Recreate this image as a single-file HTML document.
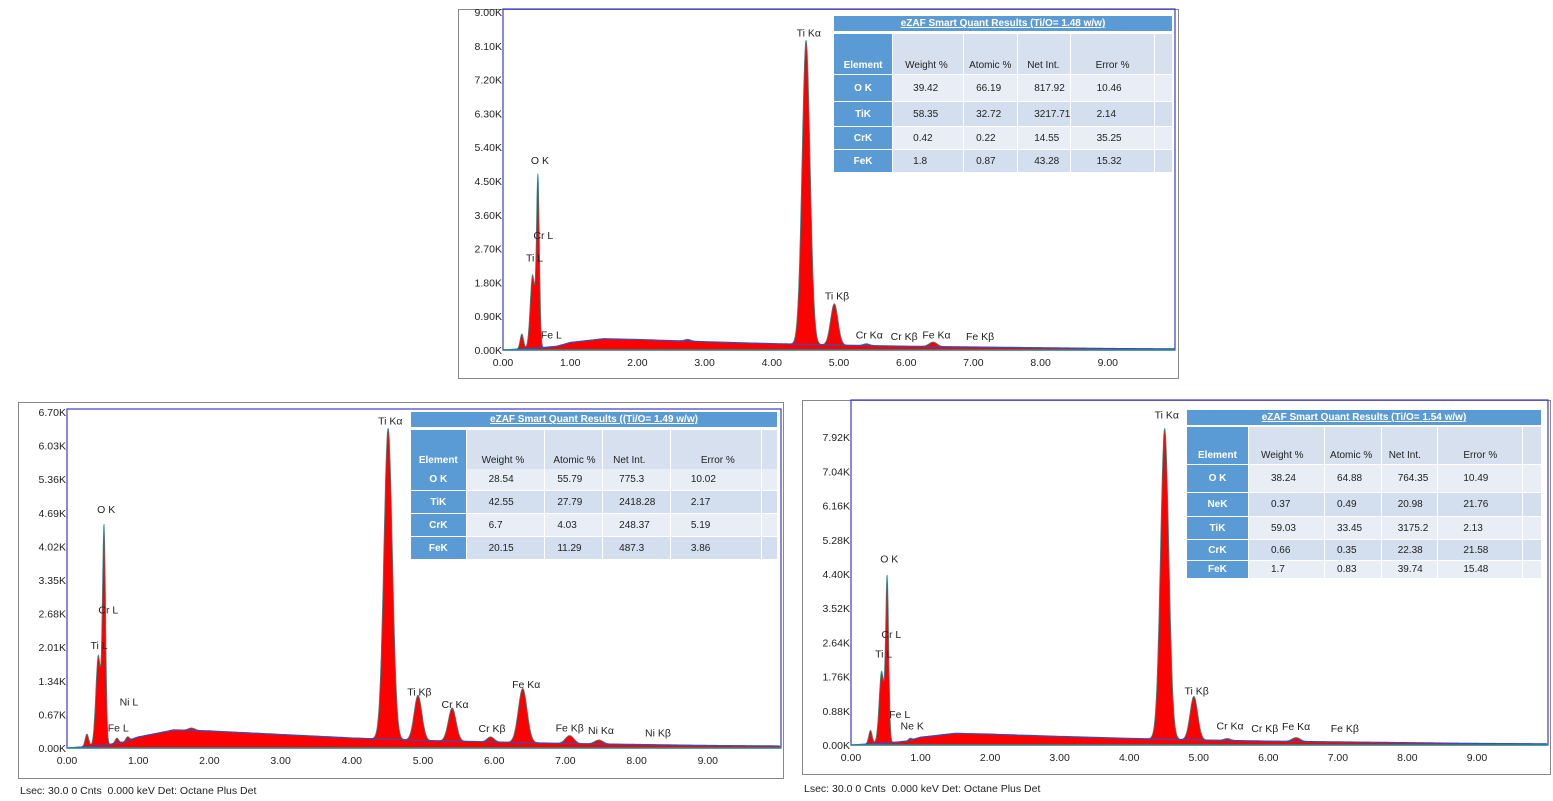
<!DOCTYPE html>
<html><head><meta charset="utf-8"><style>
body{margin:0;width:1553px;height:801px;background:#fff;position:relative;overflow:hidden;font-family:"Liberation Sans Narrow","Liberation Sans",sans-serif;}
.panel{position:absolute;border:1px solid #888;background:#fff;}
svg{position:absolute;left:0;top:0;}
.tbl{position:absolute;font-size:10px;color:#222;}
.ttl{position:absolute;left:0;right:0;background:#5b9bd5;color:#fff;font-weight:bold;text-align:center;text-decoration:underline;font-size:10px;}
.row{position:absolute;left:0;right:0;}
.cell{position:absolute;top:0;bottom:0;display:flex;align-items:center;}
.el{background:#5b9bd5;color:#fff;font-weight:bold;justify-content:center;}
.foot{position:absolute;font-size:10.5px;color:#222;}
</style></head><body>
<div class="panel" style="left:458px;top:9px;width:719px;height:368px"></div>
<div class="panel" style="left:18px;top:402px;width:764px;height:375px"></div>
<div class="panel" style="left:802px;top:400px;width:747px;height:373px"></div>
<svg id="chart" width="1553" height="801"></svg>
<div class="foot" style="left:20px;top:785px">Lsec: 30.0 0 Cnts&nbsp; 0.000 keV Det: Octane Plus Det</div>
<div class="foot" style="left:804px;top:783px">Lsec: 30.0 0 Cnts&nbsp; 0.000 keV Det: Octane Plus Det</div>
<script>
// ---- data ----
const xTicks=["0.00","1.00","2.00","3.00","4.00","5.00","6.00","7.00","8.00","9.00"];
const yTicks1=["0.00K","0.90K","1.80K","2.70K","3.60K","4.50K","5.40K","6.30K","7.20K","8.10K","9.00K"];
const yTicks2=["0.00K","0.67K","1.34K","2.01K","2.68K","3.35K","4.02K","4.69K","5.36K","6.03K","6.70K"];
const yTicks3=["0.00K","0.88K","1.76K","2.64K","3.52K","4.40K","5.28K","6.16K","7.04K","7.92K"];
const yMax1=9.0, yMax2=6.7, yMax3=8.8;
// background continuum (keV, K counts)
const bgE=[0,0.2,0.5,0.8,1.0,1.5,2.0,3.0,4.0,5.0,6.0,7.0,8.0,9.0,10.0];
const bg1=[0,0.02,0.05,0.1,0.2,0.3,0.28,0.22,0.17,0.13,0.1,0.08,0.06,0.04,0.03];
const bg2=[0,0.02,0.05,0.12,0.22,0.36,0.34,0.27,0.2,0.15,0.12,0.09,0.07,0.05,0.04];
const bg3=[0,0.02,0.05,0.1,0.2,0.3,0.28,0.22,0.17,0.13,0.1,0.08,0.06,0.04,0.03];
// peaks: energy, height (K), sigma
const pkE1=[0.28,0.44,0.52,4.51,4.93,5.41,6.40,2.75];
const pkH1=[0.4,1.95,4.5,8.1,1.1,0.05,0.12,0.05];
const pkS1=[0.025,0.035,0.022,0.06,0.055,0.05,0.06,0.05];
const pkE2=[0.28,0.44,0.52,0.7,0.85,4.51,4.93,5.41,5.95,6.40,7.06,7.47,1.75];
const pkH2=[0.25,1.8,4.3,0.1,0.08,6.2,0.9,0.66,0.1,1.08,0.16,0.08,0.05];
const pkS2=[0.025,0.035,0.022,0.025,0.025,0.06,0.055,0.055,0.05,0.062,0.06,0.06,0.05];
const pkE3=[0.28,0.44,0.52,0.85,4.51,4.93,5.41,6.40];
const pkH3=[0.35,1.85,4.2,0.05,8.0,1.12,0.05,0.1];
const pkS3=[0.025,0.035,0.022,0.025,0.06,0.055,0.05,0.06];
// peak labels: text, energy, count(K) of label baseline
const lb1T=["Ti Kα","O  K","Cr L","Ti L","Fe L","Ti Kβ","Cr Kα","Cr Kβ","Fe Kα","Fe Kβ"];
const lb1E=[4.55,0.55,0.6,0.47,0.72,4.97,5.45,5.97,6.45,7.1];
const lb1C=[8.35,4.95,2.95,2.35,0.3,1.35,0.3,0.27,0.3,0.27];
const lb2T=["Ti Kα","O  K","Cr L","Ti L","Ni L","Fe L","Ti Kβ","Cr Kα","Cr Kβ","Fe Kα","Fe Kβ","Ni Kα","Ni Kβ"];
const lb2E=[4.54,0.55,0.58,0.45,0.87,0.72,4.95,5.45,5.97,6.45,7.06,7.5,8.3];
const lb2C=[6.45,4.69,2.68,1.97,0.85,0.33,1.05,0.8,0.32,1.2,0.33,0.28,0.23];
const lb3T=["Ti Kα","O  K","Cr L","Ti L","Fe L","Ne K","Ti Kβ","Cr Kα","Cr Kβ","Fe Kα","Fe Kβ"];
const lb3E=[4.54,0.55,0.58,0.47,0.7,0.88,4.97,5.45,5.95,6.4,7.1];
const lb3C=[8.4,4.7,2.75,2.25,0.7,0.4,1.3,0.4,0.33,0.38,0.33];
// tables
const t1Title="eZAF Smart Quant Results (Ti/O= 1.48 w/w)";
const t1El=["O K","TiK","CrK","FeK"];
const t1W=["39.42","58.35","0.42","1.8"],t1A=["66.19","32.72","0.22","0.87"],t1N=["817.92","3217.71","14.55","43.28"],t1R=["10.46","2.14","35.25","15.32"];
const t2Title="eZAF Smart Quant Results ((Ti/O= 1.49 w/w)";
const t2El=["O K","TiK","CrK","FeK"];
const t2W=["28.54","42.55","6.7","20.15"],t2A=["55.79","27.79","4.03","11.29"],t2N=["775.3","2418.28","248.37","487.3"],t2R=["10.02","2.17","5.19","3.86"];
const t3Title="eZAF Smart Quant Results (Ti/O= 1.54 w/w)";
const t3El=["O K","NeK","TiK","CrK","FeK"];
const t3W=["38.24","0.37","59.03","0.66","1.7"],t3A=["64.88","0.49","33.45","0.35","0.83"],t3N=["764.35","20.98","3175.2","22.38","39.74"],t3R=["10.49","21.76","2.13","21.58","15.48"];

const NS="http://www.w3.org/2000/svg";
const svg=document.getElementById('chart');
function mk(tag,attrs,parent){const e=document.createElementNS(NS,tag);for(const k in attrs)e.setAttribute(k,attrs[k]);(parent||svg).appendChild(e);return e;}
function interp(xs,ys,x){for(let i=0;i<xs.length-1;i++){if(x<=xs[i+1]){const t=(x-xs[i])/(xs[i+1]-xs[i]);return ys[i]+t*(ys[i+1]-ys[i]);}}return ys[ys.length-1];}

function panel(name,g,yT,yMax,bg,pE,pH,pS,lT,lE,lC){
  const X=e=>g.x0+e*g.kx, Y=c=>g.yb-c/yMax*(g.yb-g.yt);
  const grp=mk('g',{});
  
  
  const r=mk('rect',{x:g.x0,y:g.yt-3,width:g.x1-g.x0,height:g.yb-g.yt+3,fill:'none',stroke:'#3b3bd0','stroke-width':1.2},grp);
  
  
  let pts=[];
  const eMax=(g.x1-g.x0)/g.kx;
  for(let i=0;i<=1500;i++){const e=i/1500*eMax;let c=interp(bgE,bg,e);
    for(let j=0;j<pE.length;j++){c+=pH[j]*Math.exp(-0.5*Math.pow((e-pE[j])/pS[j],2));}
    pts.push([X(e),Math.max(Y(Math.min(c,yMax)),g.yt)]);}
  let d='M'+X(0)+','+g.yb+' '+pts.map(p=>'L'+p[0].toFixed(1)+','+p[1].toFixed(1)).join(' ')+' L'+g.x1+','+g.yb+'Z';
  const f=mk('path',{d:d,fill:'#ff0000',stroke:'#2a8c8c','stroke-width':0.8},grp);
  
  
  let bd='';for(let i=0;i<=200;i++){const e=i*0.05;if(X(e)>g.x1)break;bd+=(i?'L':'M')+X(e).toFixed(1)+','+Y(interp(bgE,bg,e)).toFixed(1);}
  const b=mk('path',{d:bd,fill:'none',stroke:'#3050c0','stroke-width':1.2},grp);
  
  
  mk('line',{x1:g.x0,y1:g.yb,x2:g.x1,y2:g.yb,stroke:'#2a8c8c','stroke-width':1.5},grp);
  xTicks.forEach((t,i)=>{const tx=mk('text',{x:X(i),y:g.yb+16,'font-size':10.5,'text-anchor':'middle',fill:'#222'},grp);tx.textContent=t;
    });
  const step=(yMax===8.8)?0.88:yMax/10;
  yT.forEach((t,i)=>{const ty=mk('text',{x:g.x0-1,y:Y(i*step)+4,'font-size':10.5,'text-anchor':'end',fill:'#222'},grp);ty.textContent=t;
    });
  lT.forEach((t,i)=>{const tl=mk('text',{x:X(lE[i]),y:Y(lC[i]),'font-size':10.5,'text-anchor':'middle',fill:'#222'},grp);tl.textContent=t;
    });
}
panel('spectrum-top',{x0:503,x1:1175,kx:67.2,yt:12,yb:350},yTicks1,yMax1,bg1,pkE1,pkH1,pkS1,lb1T,lb1E,lb1C);
panel('spectrum-bottom-left',{x0:67,x1:781,kx:71.2,yt:412,yb:748},yTicks2,yMax2,bg2,pkE2,pkH2,pkS2,lb2T,lb2E,lb2C);
panel('spectrum-bottom-right',{x0:851,x1:1548,kx:69.55,yt:403,yb:745},yTicks3,yMax3,bg3,pkE3,pkH3,pkS3,lb3T,lb3E,lb3C);

function table(name,g,title,els,W,A,N,R){
  const t=document.createElement('div');t.className='tbl';
  
  
  t.style.left=g.x+'px';t.style.top=g.y+'px';t.style.width=g.w+'px';t.style.height=(g.rows[g.rows.length-1]+g.rh[g.rh.length-1])+'px';
  document.body.appendChild(t);
  const tt=document.createElement('div');tt.className='ttl';tt.textContent=title;tt.style.top='0px';tt.style.height=g.th+'px';tt.style.lineHeight=g.th+'px';
  t.appendChild(tt);
  const cw=g.cols;
  const hdr=['Element','Weight %','Atomic %','Net Int.','Error %',''];
  function row(top,h,vals,bgc,isHdr){
    const r=document.createElement('div');r.className='row';r.style.top=top+'px';r.style.height=h+'px';
    
    let x=0;vals.forEach((v,i)=>{const c=document.createElement('div');c.className='cell'+(i==0?' el':'');
      c.style.left=(x*g.w)+'px';c.style.width=(cw[i]*g.w-(i<5?1:0))+'px';
      if(i>0){c.style.background=bgc;c.style.paddingLeft=(isHdr?g.hp[i]:g.vp[i])+'px';c.style.boxSizing='border-box';}
      if(isHdr){c.style.alignItems='flex-end';c.style.paddingBottom='3px';c.style.boxSizing='border-box';}
      c.textContent=v;r.appendChild(c);x+=cw[i];});
    t.appendChild(r);}
  row(g.hy,g.hh,hdr,'#d6e0ee',true);
  els.forEach((e,i)=>row(g.rows[i],g.rh[i],[e,W[i],A[i],N[i],R[i],''],i%2? '#d3deee':'#e8edf6',false));
}
table('results-table-top',{x:834,y:16,w:338,th:15,hy:18,hh:40,rows:[59,86,111,134],rh:[26,24,22,22],
  cols:[0.175,0.21,0.16,0.155,0.25,0.05],hp:[0,12,5,9,25,0],vp:[0,20,12,16,26,0]},t1Title,t1El,t1W,t1A,t1N,t1R);
table('results-table-bottom-left',{x:411,y:412,w:366,th:15,hy:18,hh:39,rows:[57,79,102,125],rh:[21,22,22,22],
  cols:[0.152,0.215,0.158,0.185,0.25,0.04],hp:[0,15,8,10,30,0],vp:[0,22,12,16,20,0]},t2Title,t2El,t2W,t2A,t2N,t2R);
table('results-table-bottom-right',{x:1187,y:410,w:354,th:15,hy:17,hh:37,rows:[55,83,107,130,151],rh:[27,23,22,20,17],
  cols:[0.175,0.215,0.16,0.16,0.24,0.05],hp:[0,12,5,7,25,0],vp:[0,22,12,16,25,0]},t3Title,t3El,t3W,t3A,t3N,t3R);
</script>
</body></html>
